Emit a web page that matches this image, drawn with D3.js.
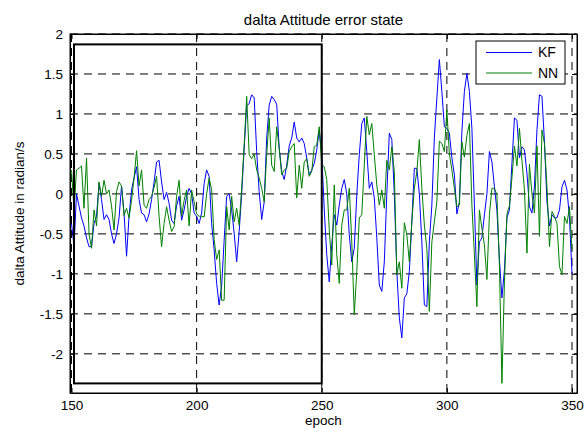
<!DOCTYPE html>
<html>
<head>
<meta charset="utf-8">
<script src="https://cdn.jsdelivr.net/npm/d3@7"></script>
<style>
body { margin: 0; background: #fff; }
text { font-family: "Liberation Sans", Arial, Helvetica, sans-serif; fill: #000; }
.axis path, .axis line { stroke: #000; }
.axis text { font-size: 13.5px; }
.grid line { stroke: #000; stroke-dasharray: 8,6; }
</style>
</head>
<body>
<svg id="svgChart"></svg>
<script>

/// DATA ////////////////////////////////////////////////////////////////////////////////

var epochs = d3.range(150, 351);   // one sample per epoch

var kfValues = [
    -0.37, -0.66, 0.0, -0.15, -0.3, -0.4, -0.55, -0.66, -0.66, -0.37,      // 150
    -0.28, 0.13, -0.07, -0.32, -0.26, -0.32, -0.5, -0.62, -0.5, -0.3,      // 160
    0.1, -0.24, -0.78, -0.28, 0.05, 0.2, 0.34, -0.07, -0.24, -0.26,        // 170
    -0.35, -0.25, -0.07, 0.15, 0.4, 0.42, 0.15, -0.07, 0.02, -0.12,        // 180
    -0.33, -0.37, -0.15, -0.03, -0.33, -0.2, -0.03, 0.07, 0.0, -0.24,      // 190
    -0.28, -0.37, -0.24, 0.13, 0.3, 0.22, -0.37, -0.7, -1.12, -1.39,       // 200
    -1.15, -0.58, -0.03, 0.0, -0.2, -0.49, -0.85, -0.47, 0.0, 0.57,        // 210
    1.1, 1.13, 1.24, 1.2, 0.53, 0.03, -0.32, -0.1, 0.7, 1.11,              // 220
    1.22, 1.18, 1.12, 0.57, 0.28, 0.18, 0.36, 0.6, 0.7, 0.9,               // 230
    0.7, 0.65, 0.7, 0.63, 0.45, 0.24, 0.3, 0.38, 0.55, 0.8,                // 240
    0.5, -0.2, -0.76, -1.1, -0.64, -0.26, -0.39, -0.14, 0.07, 0.18,        // 250
    0.0, -0.51, -0.85, -0.68, -0.01, 0.49, 0.88, 0.95, 0.53, 0.07,         // 260
    0.15, -0.05, -0.55, -1.14, -1.22, -0.85, 0.0, 0.76, 0.68, 0.0,         // 270
    -0.97, -1.55, -1.8, -1.3, -1.25, -0.97, -0.35, 0.32, 0.32, 0.0,        // 280
    -0.6, -1.39, -1.41, -0.6, -0.14, 0.7, 1.2, 1.68, 1.28, 0.84,           // 290
    0.82, 0.76, 0.45, 0.24, -0.25, -0.1, 0.78, 1.28, 1.51, 1.28,           // 300
    0.82, -0.14, -1.14, -0.6, -0.55, -0.26, 0.0, 0.53, 0.4, 0.09,          // 310
    -0.2, -0.82, -1.3, -0.95, -0.3, -0.2, 0.38, 0.95, 0.92, 0.45,          // 320
    0.59, 0.55, 0.26, -0.16, -0.24, 0.1, 0.8, 1.24, 1.22, 0.65,            // 330
    -0.1, -0.4, -0.26, -0.3, -0.3, -0.2, 0.09, 0.17, 0.05, -0.3,           // 340
    -1.0                                                                   // 350
];

var nnValues = [
    0.3, -0.2, 0.3, 0.32, 0.35, -0.18, 0.45, -0.5, -0.68, -0.2,            // 150
    -0.4, 0.15, -0.03, 0.17, 0.0, 0.05, -0.15, -0.45, 0.03, 0.15,          // 160
    0.1, -0.27, -0.18, -0.3, -0.08, 0.2, 0.54, 0.1, 0.3, -0.14,            // 170
    -0.18, -0.07, -0.03, 0.08, 0.22, -0.28, -0.66, -0.37, -0.16, -0.33,    // 180
    -0.47, -0.41, -0.03, 0.17, -0.28, -0.08, 0.05, -0.4, 0.05, -0.1,       // 190
    -0.25, -0.28, -0.28, -0.29, 0.0, 0.2, 0.05, -0.57, -0.82, -0.7,        // 200
    -1.33, -1.33, -0.16, -0.45, -0.03, -0.35, -0.18, -0.39, 0.07, 0.61,    // 210
    1.22, 0.49, 0.44, 0.5, 0.3, 0.2, 0.07, -0.1, 0.49, 0.95,               // 220
    0.36, 0.28, 0.84, 0.57, 0.24, 0.3, 0.32, 0.53, 0.59, 0.63,             // 230
    -0.05, 0.36, 0.07, 0.4, 0.44, 0.22, 0.28, 0.59, 0.61, 0.84,            // 240
    0.36, 0.34, 0.18, -0.45, -0.89, 0.11, -0.76, -1.12, -0.39, -0.2,       // 250
    -0.2, 0.07, -0.6, -1.51, -0.97, -0.3, -0.26, 0.36, 0.97, 0.74,         // 260
    0.88, 0.49, 0.11, -0.14, 0.05, -0.18, 0.42, 0.3, 0.59, 0.28,           // 270
    -1.01, -0.85, -1.18, -0.36, -0.51, -0.85, -0.35, 0.07, 0.28, 0.68,     // 280
    0.07, -0.39, -0.68, -1.47, -0.6, -0.35, -0.1, 0.66, 0.63, 0.53,        // 290
    1.05, 0.5, 0.3, 0.07, -0.16, -0.14, 0.65, 0.46, 0.73, 0.88,            // 300
    -0.14, -0.76, -1.41, -0.2, -0.43, -0.64, -1.07, -0.26, 0.07, 0.07,     // 310
    -0.01, -0.9, -2.37, -1.1, -0.25, -0.15, 0.2, 0.6, 0.35, 0.82,          // 320
    0.42, 0.05, -0.74, 0.37, 0.0, -0.24, 0.6, -0.53, 0.8, 0.63,            // 330
    0.09, -0.66, -0.22, -0.28, -0.37, -0.91, -1.01, -0.28, -0.37, -0.16,   // 340
    -0.7                                                                   // 350
];

var seriesNames = ["KF", "NN"];
var xTicks = [150, 200, 250, 300, 350];
var yTicks = [-2, -1.5, -1, -0.5, 0, 0.5, 1, 1.5, 2];
var xLimits = [149.4, 352];
var yLimits = [-2.49, 2];

// highlighted window drawn on the plot (data units)
var boxEpochs = [151, 250];
var boxValues = [-2.37, 1.87];

/// SETUP ///////////////////////////////////////////////////////////////////////////////

var WIDTH = 587, HEIGHT = 428;
var CHART_LEFT = 70, CHART_TOP = 34;
var CHART_WIDTH = 507, CHART_HEIGHT = 359;
var COLOURS = ["#0000ff", "#008000"];

var svg = d3.select('#svgChart')
    .attr('width', WIDTH)
    .attr('height', HEIGHT);

var chart_g = svg.append('g').attr('transform', 'translate(' + CHART_LEFT + ',' + CHART_TOP + ')');

var x = d3.scaleLinear().domain(xLimits).range([0, CHART_WIDTH]);
var y = d3.scaleLinear().domain(yLimits).range([CHART_HEIGHT, 0]);

var series = [kfValues, nnValues];

/////////////////////////////////////////////////////////////////////////////////////////

function drawGrid() {
    chart_g.append('g')
        .attr('class', 'grid')
        .selectAll('line.v')
        .data(xTicks)
        .enter()
        .append('line')
            .attr('x1', function (d) { return x(d) })
            .attr('x2', function (d) { return x(d) })
            .attr('y1', 0)
            .attr('y2', CHART_HEIGHT);

    chart_g.append('g')
        .attr('class', 'grid')
        .selectAll('line.h')
        .data(yTicks)
        .enter()
        .append('line')
            .attr('x1', 0)
            .attr('x2', CHART_WIDTH)
            .attr('y1', function (d) { return y(d) })
            .attr('y2', function (d) { return y(d) });
}

function drawAxis() {
    // bottom, with labels; ticks point inward like matlab
    chart_g.append('g')
        .attr('class', 'axis')
        .attr('transform', 'translate(0,' + CHART_HEIGHT + ')')
        .call(d3.axisBottom(x).tickValues(xTicks).tickSizeInner(-5).tickSizeOuter(0).tickPadding(7)
            .tickFormat(function (d) { return String(d) }));

    chart_g.append('g')
        .attr('class', 'axis')
        .call(d3.axisLeft(y).tickValues(yTicks).tickSizeInner(-5).tickSizeOuter(0).tickPadding(7)
            .tickFormat(function (d) { return String(d) }));

    // top + right: ticks only
    chart_g.append('g')
        .attr('class', 'axis')
        .call(d3.axisTop(x).tickValues(xTicks).tickSizeInner(-5).tickSizeOuter(0).tickFormat(''));

    chart_g.append('g')
        .attr('class', 'axis')
        .attr('transform', 'translate(' + CHART_WIDTH + ',0)')
        .call(d3.axisRight(y).tickValues(yTicks).tickSizeInner(-5).tickSizeOuter(0).tickFormat(''));

    chart_g.append('rect')
        .attr('width', CHART_WIDTH)
        .attr('height', CHART_HEIGHT)
        .attr('fill', 'none')
        .attr('stroke', '#000');

    // labels
    svg.append('text')
        .attr('x', CHART_LEFT + CHART_WIDTH / 2)
        .attr('y', 425)
        .style('text-anchor', 'middle')
        .style('font-size', '13.5px')
        .text('epoch');

    svg.append('text')
        .attr('transform', 'translate(24,' + (CHART_TOP + CHART_HEIGHT / 2) + ') rotate(-90)')
        .style('text-anchor', 'middle')
        .style('font-size', '13.5px')
        .text('dalta Attitude in radian/s');

    svg.append('text')
        .attr('x', CHART_LEFT + CHART_WIDTH / 2)
        .attr('y', 25)
        .style('text-anchor', 'middle')
        .style('font-size', '15px')
        .text('dalta Attitude error state');
}

function drawLines() {
    var line = d3.line()
        .x(function (d, i) { return x(epochs[i]) })
        .y(function (d) { return y(d) });

    chart_g.selectAll('path.series')
        .data(series)
        .enter()
        .append('path')
            .attr('class', 'series')
            .attr('d', line)
            .attr('fill', 'none')
            .attr('stroke', function (d, i) { return COLOURS[i] })
            .attr('stroke-width', 1);

    // black window
    chart_g.append('rect')
        .attr('x', x(boxEpochs[0]))
        .attr('y', y(boxValues[1]))
        .attr('width', x(boxEpochs[1]) - x(boxEpochs[0]))
        .attr('height', y(boxValues[0]) - y(boxValues[1]))
        .attr('fill', 'none')
        .attr('stroke', '#000')
        .attr('stroke-width', 2);
}

function drawLegend() {
    var legend_g = chart_g.append('g')
        .attr('transform', 'translate(' + (CHART_WIDTH - 101) + ',7)');

    legend_g.append('rect')
        .attr('width', 89)
        .attr('height', 43)
        .attr('fill', '#fff')
        .attr('stroke', '#000');

    var items = legend_g.selectAll('g.item')
        .data(seriesNames)
        .enter()
        .append('g')
            .attr('class', 'item')
            .attr('transform', function (d, i) { return 'translate(0,' + (11.5 + i * 20.5) + ')' });

    items.append('line')
        .attr('x1', 10)
        .attr('x2', 56)
        .attr('stroke', function (d, i) { return COLOURS[i] });

    items.append('text')
        .attr('x', 62)
        .attr('dy', '0.35em')
        .style('font-size', '14px')
        .text(function (d) { return d });
}

drawGrid();
drawLines();
drawAxis();
drawLegend();

</script>
</body>
</html>
